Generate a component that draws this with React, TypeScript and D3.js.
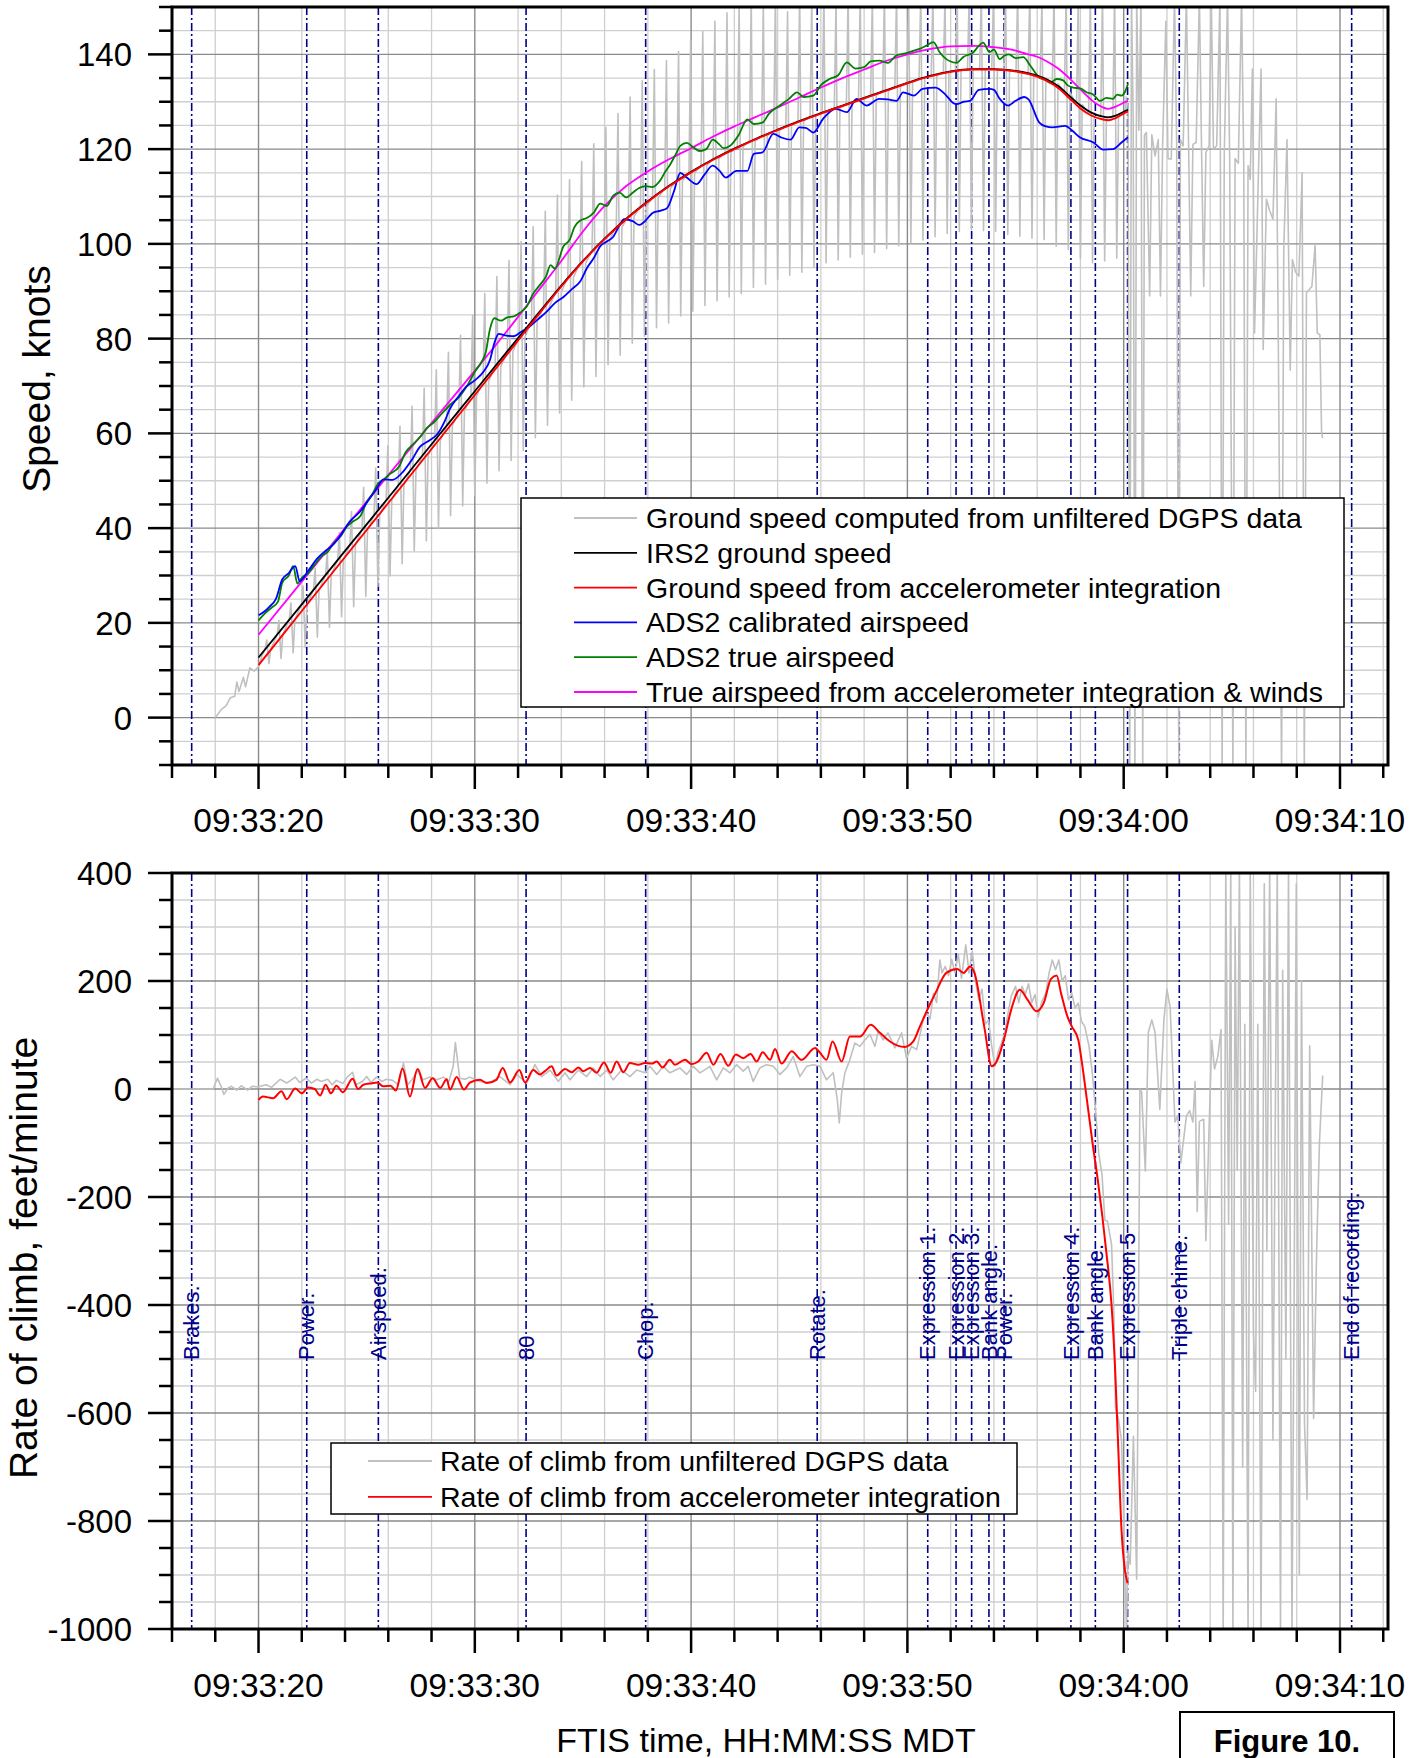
import React from 'react';
import * as d3 from 'd3';

// ---------- event markers ----------
const eventTimes = [16.91, 22.23, 25.54, 32.37, 37.9, 45.83, 50.94, 52.25, 52.97, 53.77, 54.47, 57.56, 58.69, 60.18, 62.57, 70.54];
const eventLabels = ['Brakes.', 'Power.', 'Airspeed.', '80', 'Chop.', 'Rotate.', 'Expression 1.', 'Expression 2.', 'Expression 3.', 'Bank angle.', 'Power.', 'Expression 4.', 'Bank angle.', 'Expression 5', 'Triple chime.', 'End of recording.'];

// ---------- tick labels ----------
const timeTicks = [20, 30, 40, 50, 60, 70];
const timeLabels = ['09:33:20', '09:33:30', '09:33:40', '09:33:50', '09:34:00', '09:34:10'];
const speedTicks = [0, 20, 40, 60, 80, 100, 120, 140];
const rocTicks = [400, 200, 0, -200, -400, -600, -800, -1000];

// ---------- top chart: speeds (t = seconds after 09:33:00, knots) ----------
const irs2Speed: [number, number][] = [[20,12.7],[22,23.9],[24,35.2],[26,46.4],[28,57.7],[30,68.9],[32,80.1],[33,85.7],[34,91.2],[35,96.4],[36,101.1],[37,105.3],[38,109],[39,112.3],[40,115.2],[41,117.8],[42,120.1],[43,122.2],[44,124.1],[45,125.9],[46,127.6],[47,129.2],[48,130.8],[49,132.4],[50,134],[51,135.4],[52,136.4],[53,136.9],[54,136.9],[55,136.5],[56,135.5],[56.5,134.6],[57,133.2],[57.5,131.2],[58,129.2],[58.5,127.7],[59,126.9],[59.3,126.7],[59.6,127],[60,127.9],[60.2,128.3]];
const accelGroundSpeed: [number, number][] = [[20,11.1],[22,22.5],[24,33.9],[26,45.3],[28,56.7],[30,68.1],[32,79.6],[33,85.4],[34,91],[35,96.3],[36,101],[37,105.2],[38,108.9],[39,112.2],[40,115.1],[41,117.7],[42,120],[43,122.1],[44,124],[45,125.8],[46,127.5],[47,129.1],[48,130.7],[49,132.3],[50,133.9],[51,135.3],[52,136.3],[53,136.8],[54,136.8],[55,136.4],[56,135.3],[56.5,134.3],[57,132.8],[57.5,130.7],[58,128.6],[58.5,127.1],[59,126.3],[59.3,126.1],[59.6,126.5],[60,127.5],[60.2,127.9]];
const accelTrueAirspeed: [number, number][] = [[20,17.5],[22,28.7],[24,40],[26,51.2],[28,62.2],[30,73.2],[31,78.8],[32,84.6],[33,90.5],[34,96.4],[35,102.6],[36,108],[37,112.2],[38,115.3],[39,117.9],[40,120.2],[41,122.6],[42,124.8],[43,126.8],[44,128.8],[45,130.9],[46,133],[47,135],[48,136.8],[49,138.6],[50,140],[51,141.1],[52,141.7],[53,141.8],[54,141.5],[55,140.8],[55.5,140.1],[56,139.5],[56.5,138.4],[57,136.9],[57.5,134.9],[58,132.6],[58.5,130.4],[59,128.9],[59.3,128.5],[59.6,128.9],[60,129.8],[60.2,130.2]];
const ads2TrueAirspeed: [number, number][] = [[20,20.5],[20.3,22],[20.6,23.2],[20.9,24.5],[21.1,28.5],[21.4,30],[21.6,32],[21.8,28.3],[22,29.5],[22.3,30.5],[22.6,32.3],[22.9,34],[23.2,35],[23.5,37],[23.8,38.3],[24.1,40.4],[24.4,41.5],[24.7,42.5],[25,45.5],[25.3,47.5],[25.5,49.2],[25.8,50.3],[26.1,51.5],[26.5,53],[26.8,56],[27.1,57.5],[27.5,59.4],[27.8,61.2],[28.1,62.3],[28.5,64.3],[28.9,66.2],[29.3,67.8],[29.7,70.5],[30,73],[30.3,75],[30.5,77],[30.7,82],[30.9,84.3],[31.2,83.8],[31.5,84.5],[31.8,84.7],[32.1,85.5],[32.4,86.8],[32.7,89.5],[33,91.3],[33.3,93.2],[33.5,95.5],[33.7,94.8],[34.1,99.5],[34.4,101],[34.6,103.5],[34.9,105],[35.2,105.5],[35.5,106.6],[35.8,108.5],[36.1,108],[36.4,110.2],[36.7,110.8],[37,109.8],[37.3,110.8],[37.6,111.8],[37.9,112.2],[38.2,112],[38.6,113.6],[38.8,115.2],[39,116.5],[39.3,119],[39.5,120.7],[39.8,121.3],[40.1,120.4],[40.4,119.6],[40.7,120],[41,122],[41.3,121],[41.5,120.2],[41.8,120.7],[42.2,123],[42.6,126.3],[42.9,125.3],[43.3,125.6],[43.6,127.5],[44.1,129.2],[44.5,130.5],[44.9,132],[45.2,131],[45.65,131.3],[46,133.5],[46.4,134.8],[46.8,135.6],[47.2,138.3],[47.6,137],[48,137.3],[48.3,138.5],[48.7,138.7],[49.1,138.2],[49.5,139.8],[49.9,140.2],[50.3,140.8],[50.6,141.2],[50.9,141.9],[51.2,142.6],[51.5,140.4],[51.8,139],[52,138.5],[52.27,138.2],[52.6,139.5],[53.04,140.4],[53.3,141.8],[53.5,142.5],[53.8,140.5],[54,141],[54.27,139],[54.5,139.8],[54.7,140],[55,139.2],[55.35,139.4],[55.7,137.5],[56.1,135.1],[56.4,134.6],[56.6,134],[56.9,134.8],[57.2,134.5],[57.4,133.5],[57.66,133],[58,132.8],[58.28,132],[58.6,131.5],[58.9,130.2],[59.2,130.8],[59.5,130.6],[59.7,131.5],[59.9,131.3],[60.05,132],[60.2,133.8]];
const ads2CalAirspeed: [number, number][] = [[20,21.6],[20.3,22.5],[20.5,23.4],[20.8,25],[21.1,29.2],[21.4,30.5],[21.7,32],[21.9,28.8],[22.3,31],[22.7,33.5],[23.15,35.4],[23.45,36.5],[23.8,38.5],[24.2,41.3],[24.7,43.5],[25.1,46],[25.46,48.3],[25.77,50.3],[26.2,50.2],[26.7,52],[27.1,54.5],[27.47,57.2],[27.9,58.5],[28.24,59.7],[28.6,62.5],[28.85,65.2],[29.2,67.5],[29.6,69.8],[30,71.2],[30.4,73],[30.7,75.5],[30.9,79],[31.1,81],[31.4,80.7],[31.8,80.5],[32.1,81.3],[32.55,82.6],[32.9,84],[33.3,85.6],[33.7,87.5],[34.1,88.8],[34.5,90.5],[34.86,92],[35.2,95],[35.5,97],[35.8,99.5],[36.1,100.5],[36.4,101.5],[36.7,104],[36.9,105.2],[37.3,104.8],[37.6,104],[37.8,104.5],[38.25,106.6],[38.6,107],[38.9,107.6],[39.2,111],[39.5,115],[39.8,114],[40.25,112.6],[40.6,114.5],[41,116.5],[41.3,115.5],[41.6,114],[42.1,115.4],[42.6,115.4],[42.9,119],[43.3,119.3],[43.8,123.2],[44.2,122.4],[44.6,122],[45,124.6],[45.3,124.5],[45.65,123.5],[46.1,126.4],[46.7,128.5],[47.2,127.8],[47.65,130.6],[48.1,129.2],[48.7,130.6],[49.1,130.5],[49.5,130.2],[49.8,132],[50.3,131.3],[50.7,132.7],[51.3,133],[51.8,131.3],[52.1,129.8],[52.27,129.5],[52.6,130],[52.9,130.2],[53.3,132.5],[53.8,132.7],[54,132.5],[54.27,130.6],[54.66,129.2],[55,130.2],[55.4,131],[55.6,130.5],[56.1,125.6],[56.4,124.8],[56.7,124.6],[57.3,124.9],[57.6,124],[57.97,122.5],[58.6,121.4],[59.05,119.9],[59.5,120],[59.9,121.4],[60.2,122.5]];

// DGPS ground speed: start of roll, periodic glitch doublets (base / high / low), and the end
const gpsSpeedStart: [number, number][] = [[18,0],[18.3,1.8],[18.5,2.5],[18.7,4.2],[18.9,4.5],[19,7.5],[19.1,5.5],[19.3,8.5],[19.4,6.5],[19.6,10.5],[19.8,9.8],[20,10.8],[20.15,13]];
const gpsSpikeTime = [20.3,20.86,21.42,21.98,22.54,23.1,23.66,24.22,24.78,25.34,25.9,26.46,27.02,27.58,28.14,28.7,29.26,29.82,30.38,30.94,31.5,32.06,32.62,33.18,33.74,34.3,34.86,35.42,35.98,36.54,37.1,37.66,38.22,38.78,39.34,39.9,40.46,41.02,41.58,42.14,42.7,43.26,43.82,44.38,44.94,45.5,46.06,46.62,47.18,47.74,48.3,48.86,49.42,49.98,50.54,51.1,51.66,52.22,52.78,53.34,53.9,54.46,55.02,55.58,56.14,56.7,57.26,57.82,58.38,58.94,59.5];
const gpsSpikeBase = [14.4,17.5,20.7,23.8,27,30.1,33.3,36.4,39.6,42.7,45.9,49,52.2,55.3,58.4,61.6,64.7,67.9,71,74.1,77.3,80.4,83.6,86.7,89.8,93,95.9,98.6,101.1,103.5,105.8,107.9,109.8,111.7,113.4,115,116.5,118,119.3,120.5,121.7,122.8,123.9,124.9,125.9,126.9,127.8,128.7,129.6,130.5,131.4,132.3,133.2,134.1,135,135.6,136.1,136.6,136.8,136.9,136.8,136.6,136.3,135.8,135,133.8,131.9,129.4,127.6,126.8,126.8];
const gpsSpikeHigh = [16.4,20.5,24.2,27.8,31.5,35.1,39,43.5,48.6,52.7,57.4,61.5,65.7,69.5,73.4,77.1,80.7,84.9,89.5,93.1,96.5,100.5,103.6,106.9,110.3,113.5,117.4,121.1,124.6,127.5,131,134.4,136.8,138.7,140.6,143,144.8,147,148.8,150.5,152,151,153,149,153,152,153,151,153,153,152,153,153,151,153,153,152,153,153,153,152,153,153,153,151,153,153,152,153,153,153];
const gpsSpikeLow = [11.4,12.5,13.7,14.8,17,19.1,21.3,23.4,25.6,27.7,29.9,32.5,35.2,37.3,39.9,42.6,44.7,46.9,49.5,52.1,54.3,56.4,59.1,61.7,64.3,67,69.8,72,74.5,76.5,79,80.5,82.3,83.3,84.8,85.8,87,88,88.8,89.5,90.8,91.5,92.5,93.4,94,95,96,96.6,97.2,97.8,98.2,99,99.6,100.2,100.8,101.5,102.2,102.6,103,102.8,102.6,102,101.6,101.2,100.9,99.5,98.8,97,96,96.4,97];
const gpsSpeedEnd: [number, number][] = [[60.06,127.9],[60.12,131],[60.2,129],[60.28,-12],[60.36,152],[60.44,126],[60.52,-12],[60.6,152],[60.7,124],[60.8,152],[60.88,-12],[60.96,123],[61.05,123.5],[61.2,89],[61.3,123],[61.45,118.6],[61.6,122],[61.7,89],[61.8,121],[61.95,147],[62.05,118],[62.2,117.9],[62.35,152],[62.45,121],[62.55,-12],[62.62,122],[62.75,120.7],[62.9,152],[63,121],[63.1,89],[63.2,121],[63.35,121.4],[63.5,152],[63.6,120],[63.7,91],[63.8,119.3],[63.95,120.7],[64.05,152],[64.15,120],[64.3,120.7],[64.45,152],[64.55,-12],[64.65,119],[64.8,152],[64.9,118],[65.05,-12],[65.15,118],[65.3,117],[65.45,152],[65.55,117],[65.65,-12],[65.75,116.5],[65.85,113.6],[65.95,136.9],[66.05,81.2],[66.2,109.4],[66.35,136.9],[66.45,77.7],[66.6,109.4],[66.75,107],[66.9,105.2],[67.05,130.6],[67.15,78.4],[67.3,-12],[67.4,98.8],[67.55,122],[67.7,73.4],[67.8,96.7],[67.95,94],[68.1,93.2],[68.25,115],[68.35,-12],[68.45,89.7],[68.7,91],[68.85,99.7],[68.95,81.2],[69.07,80.8],[69.15,60],[69.2,59]];

// ---------- bottom chart: rate of climb (ft/min) ----------
const accelRoc: [number, number][] = [[20,-20],[20.2,-14],[20.68,-17],[21.06,-4],[21.3,-19],[21.7,1],[22,-8],[22.3,3],[22.6,0],[22.85,-12],[23.1,8],[23.35,-8],[23.6,6],[23.9,-6],[24.35,19],[24.6,0],[24.85,8],[25.15,10],[25.5,12],[25.77,5],[26.1,6],[26.35,-3],[26.66,38],[27,-14],[27.35,37],[27.7,2],[28.05,20],[28.4,2],[28.7,18],[28.85,-1],[29.16,22],[29.5,-1],[29.77,12],[30.24,17],[30.55,11],[31,17],[31.29,39],[31.63,12],[32.06,35],[32.32,12],[32.7,35],[33,27],[33.24,33],[33.55,42],[33.78,25],[34.17,37],[34.48,31],[34.79,40],[35.02,33],[35.33,39],[35.63,30],[35.97,49],[36.28,30],[36.56,51],[36.87,31],[37.17,48],[37.56,45],[37.87,48],[38.18,47],[38.41,51],[38.68,40],[39.02,54],[39.25,45],[39.72,54],[40.02,46],[40.33,51],[40.72,67],[41.03,45],[41.36,65],[41.72,43],[42.07,64],[42.41,57],[42.75,65],[43.03,51],[43.31,68],[43.65,54],[43.88,74],[44.18,47],[44.65,70],[45.11,54],[45.73,76],[45.96,67],[46.26,54],[46.54,88],[46.96,51],[47.34,97],[47.81,97],[48.3,119],[48.73,104],[49.19,88],[49.88,78],[50.27,88],[50.58,116],[50.96,150],[51.3,178],[51.8,215],[52.3,222],[52.6,215],[52.9,227],[53.1,215],[53.55,116],[53.9,42],[54.1,49],[54.46,91],[54.8,147],[55.2,184],[55.56,165],[55.97,144],[56.3,159],[56.64,204],[56.9,210],[57.1,178],[57.4,134],[57.6,116],[57.9,91],[58.05,54],[58.3,-20],[58.56,-100],[58.8,-168],[59.2,-303],[59.44,-401],[59.6,-515],[59.75,-666],[59.9,-817],[60.06,-892],[60.18,-915]];
const gpsRoc: [number, number][] = [[16,0],[17.9,0],[18.1,20],[18.3,2],[18.4,-10],[18.6,2],[18.75,5],[19,-2],[19.2,6],[19.5,-2],[19.7,5],[20,4],[20.35,8],[20.6,3],[21,18],[21.3,11],[21.7,22],[21.9,12],[22.2,20],[22.45,11],[22.7,18],[22.9,14],[23.2,18],[23.4,8],[23.6,16],[23.9,10],[24.1,22],[24.35,31],[24.5,8],[24.8,14],[25,23],[25.2,12],[25.45,22],[25.7,14],[25.9,18],[26.2,16],[26.45,8],[26.7,48],[26.9,8],[27.15,20],[27.4,37],[27.6,17],[27.9,22],[28.25,17],[28.55,22],[28.8,14],[29,42],[29.1,86],[29.3,20],[29.55,18],[29.77,22],[30.24,14],[30.7,12],[31.16,23],[31.63,8],[31.93,27],[32.4,11],[32.78,45],[33.09,23],[33.48,35],[33.86,14],[34.17,30],[34.4,17],[34.79,35],[35.17,23],[35.48,39],[35.79,23],[36.1,35],[36.4,17],[36.79,35],[37.17,23],[37.48,35],[37.87,30],[38.1,42],[38.41,27],[38.71,42],[39.02,30],[39.48,39],[39.79,27],[40.1,42],[40.41,30],[40.87,42],[41.18,17],[41.49,39],[41.8,30],[42.1,45],[42.41,33],[42.64,42],[42.87,14],[43.18,39],[43.49,45],[43.8,42],[44.11,27],[44.42,39],[44.72,60],[45.03,23],[45.34,42],[45.65,45],[45.96,42],[46.26,17],[46.57,30],[46.76,-20],[46.85,-63],[46.96,-7],[47.11,30],[47.34,54],[47.57,85],[47.81,79],[48.04,91],[48.27,101],[48.5,79],[48.65,107],[48.88,91],[49.1,104],[49.42,76],[49.73,104],[49.96,57],[50.19,79],[50.43,73],[50.73,128],[50.9,140],[51.05,130],[51.2,177],[51.35,160],[51.5,239],[51.6,215],[51.75,227],[51.9,210],[52.05,240],[52.2,215],[52.35,250],[52.5,205],[52.7,267],[52.85,215],[53,255],[53.15,200],[53.3,165],[53.45,185],[53.6,120],[53.75,128],[53.9,79],[54.05,42],[54.2,70],[54.35,85],[54.5,104],[54.65,140],[54.8,172],[55,190],[55.15,160],[55.3,190],[55.45,175],[55.6,195],[55.75,160],[55.9,175],[56.05,134],[56.2,160],[56.4,178],[56.55,215],[56.7,239],[56.85,221],[57,239],[57.15,200],[57.3,210],[57.45,165],[57.6,178],[57.75,150],[57.9,159],[58.05,125],[58.2,116],[58.4,79],[58.55,30],[58.7,-40],[58.85,-120],[59,-160],[59.13,-243],[59.25,-245],[59.44,-288],[59.55,-420],[59.62,-590],[59.75,-610],[59.9,-651],[60,-800],[60.13,-1010],[60.2,-855],[60.3,-880],[60.45,-643],[60.52,-760],[60.6,-908],[60.68,-455],[60.75,-1],[60.83,-5],[61,-152],[61.14,105],[61.3,128],[61.45,105],[61.67,-38],[61.86,128],[62,185],[62.15,150],[62.37,-61],[62.5,-50],[62.64,-137],[62.9,-50],[63.05,-40],[63.2,-61],[63.3,14],[63.4,-227],[63.5,-60],[63.7,-56],[63.8,-281],[63.95,-70],[64.07,90],[64.2,37],[64.35,60],[64.5,110],[64.6,-1010],[64.72,410],[64.85,-250],[64.95,410],[65.05,-1010],[65.15,300],[65.25,-150],[65.35,410],[65.5,-700],[65.6,120],[65.75,-1010],[65.85,410],[66,-450],[66.1,-560],[66.2,120],[66.35,-1010],[66.5,380],[66.62,-300],[66.75,410],[66.9,-650],[67,-100],[67.1,410],[67.25,-1010],[67.35,220],[67.5,-500],[67.62,410],[67.78,-1010],[67.88,-380],[67.98,380],[68.12,-900],[68.22,200],[68.36,-620],[68.48,-760],[68.6,80],[68.78,-610],[68.92,-300],[69.05,-100],[69.2,25]];

const FONT = '"Liberation Sans", Arial, Helvetica, sans-serif';

const PL = 172, PR = 1388;
const T_TOP = 7, T_BOT = 765;
const B_TOP = 873, B_BOT = 1629;

export default function App() {
  const x = d3.scaleLinear().domain([16, 72.22]).range([PL, PR]);
  const yT = d3.scaleLinear().domain([-10, 150]).range([T_BOT, T_TOP]);
  const yB = d3.scaleLinear().domain([-1000, 400]).range([B_BOT, B_TOP]);

  const lineT = d3.line<[number, number]>().x(d => x(d[0])).y(d => yT(d[1]));
  const lineB = d3.line<[number, number]>().x(d => x(d[0])).y(d => yB(d[1]));
  const smoothT = d3.line<[number, number]>().x(d => x(d[0])).y(d => yT(d[1])).curve(d3.curveMonotoneX);
  const smoothB = d3.line<[number, number]>().x(d => x(d[0])).y(d => yB(d[1])).curve(d3.curveMonotoneX);

  const gpsSpeed: [number, number][] = [...gpsSpeedStart];
  gpsSpikeTime.forEach((t, i) => {
    gpsSpeed.push([t, gpsSpikeBase[i]]);
    gpsSpeed.push([t + 0.08, gpsSpikeHigh[i]]);
    gpsSpeed.push([t + 0.18, gpsSpikeLow[i]]);
    gpsSpeed.push([t + 0.26, gpsSpikeBase[i]]);
  });
  gpsSpeed.push(...gpsSpeedEnd);

  const xMinor = d3.range(16, 72.3, 2);
  const xMajor = timeTicks;
  const topMinor = d3.range(-10, 150.1, 5);
  const botMinor = d3.range(-1000, 400.1, 50);

  const grid = (y0: number, y1: number, yScale: any, minor: number[], major: number[]) => (
    <g>
      {xMinor.filter(v => !xMajor.includes(v)).map(v => (
        <line key={'xm' + v} x1={x(v)} x2={x(v)} y1={y0} y2={y1} stroke="#cfcfcf" strokeWidth={1.3} />
      ))}
      {minor.filter(v => !major.includes(v)).map(v => (
        <line key={'ym' + v} x1={PL} x2={PR} y1={yScale(v)} y2={yScale(v)} stroke="#cfcfcf" strokeWidth={1.3} />
      ))}
      {xMajor.map(v => (
        <line key={'xM' + v} x1={x(v)} x2={x(v)} y1={y0} y2={y1} stroke="#8a8a8a" strokeWidth={1.4} />
      ))}
      {major.map(v => (
        <line key={'yM' + v} x1={PL} x2={PR} y1={yScale(v)} y2={yScale(v)} stroke="#8a8a8a" strokeWidth={1.4} />
      ))}
    </g>
  );

  const events = (y0: number, y1: number) => (
    <g>
      {eventTimes.map((t, i) => (
        <line key={'ev' + i} x1={x(t)} x2={x(t)} y1={y0} y2={y1} stroke="#000090" strokeWidth={1.6} strokeDasharray="8 3 2 3" />
      ))}
    </g>
  );

  const axes = (y0: number, y1: number, yScale: any, minor: number[], major: number[], labels: number[], xLabelY: number) => (
    <g>
      <rect x={PL} y={y0} width={PR - PL} height={y1 - y0} fill="none" stroke="#000" strokeWidth={3} />
      {minor.map(v => {
        const isMajor = major.includes(v);
        return <line key={'yt' + v} x1={PL - (isMajor ? 24 : 13)} x2={PL} y1={yScale(v)} y2={yScale(v)} stroke="#000" strokeWidth={2.5} />;
      })}
      {xMinor.map(v => {
        const isMajor = xMajor.includes(v);
        return <line key={'xt' + v} x1={x(v)} x2={x(v)} y1={y1} y2={y1 + (isMajor ? 24 : 13)} stroke="#000" strokeWidth={2.5} />;
      })}
      {labels.map(v => (
        <text key={'yl' + v} x={132} y={yScale(v) + 12} textAnchor="end" fontSize={33} fontFamily={FONT} fill="#000">{String(v)}</text>
      ))}
      {timeTicks.map((v, i) => (
        <text key={'xl' + v} x={x(v)} y={xLabelY} textAnchor="middle" fontSize={33.5} fontFamily={FONT} fill="#000">{timeLabels[i]}</text>
      ))}
    </g>
  );

  const topLegend = [
    { label: 'Ground speed computed from unfiltered DGPS data', color: '#c0c0c0' },
    { label: 'IRS2 ground speed', color: '#000000' },
    { label: 'Ground speed from accelerometer integration', color: '#ff0000' },
    { label: 'ADS2 calibrated airspeed', color: '#0000ff' },
    { label: 'ADS2 true airspeed', color: '#008000' },
    { label: 'True airspeed from accelerometer integration & winds', color: '#ff00ff' },
  ];
  const botLegend = [
    { label: 'Rate of climb from unfiltered DGPS data', color: '#c0c0c0' },
    { label: 'Rate of climb from accelerometer integration', color: '#ff0000' },
  ];

  return (
    <svg width={1425} height={1758} viewBox="0 0 1425 1758" style={{ position: 'absolute', left: 0, top: 0, background: '#fff' }}>
      <defs>
        <clipPath id="clipTop"><rect x={PL} y={T_TOP} width={PR - PL} height={T_BOT - T_TOP} /></clipPath>
        <clipPath id="clipBot"><rect x={PL} y={B_TOP} width={PR - PL} height={B_BOT - B_TOP} /></clipPath>
      </defs>
      <rect x={0} y={0} width={1425} height={1758} fill="#fff" />

      {/* ---------- TOP CHART ---------- */}
      {grid(T_TOP, T_BOT, yT, topMinor, speedTicks)}
      {events(T_TOP, T_BOT)}
      <g clipPath="url(#clipTop)" fill="none" strokeLinejoin="round">
        <path d={lineT(gpsSpeed) || ''} stroke="#c0c0c0" strokeWidth={1.6} />
        <path d={smoothT(accelTrueAirspeed) || ''} stroke="#ff00ff" strokeWidth={1.8} />
        <path d={smoothT(ads2TrueAirspeed) || ''} stroke="#008000" strokeWidth={1.8} />
        <path d={smoothT(ads2CalAirspeed) || ''} stroke="#0000ff" strokeWidth={1.8} />
        <path d={smoothT(irs2Speed) || ''} stroke="#000000" strokeWidth={1.8} />
        <path d={smoothT(accelGroundSpeed) || ''} stroke="#ff0000" strokeWidth={1.9} />
      </g>
      <g>
        <rect x={521} y={498} width={823} height={209} fill="#fff" stroke="#000" strokeWidth={1.5} />
        {topLegend.map((e, i) => {
          const yy = 518 + i * 34.8;
          return (
            <g key={'tl' + i}>
              <line x1={574} x2={637} y1={yy} y2={yy} stroke={e.color} strokeWidth={1.8} />
              <text x={646} y={yy + 10} fontSize={28.5} fontFamily={FONT} fill="#000">{e.label}</text>
            </g>
          );
        })}
      </g>
      {axes(T_TOP, T_BOT, yT, topMinor, speedTicks, speedTicks, 832)}

      {/* ---------- BOTTOM CHART ---------- */}
      {grid(B_TOP, B_BOT, yB, botMinor, rocTicks)}
      {events(B_TOP, B_BOT)}
      <g clipPath="url(#clipBot)" fill="none" strokeLinejoin="round">
        <path d={lineB(gpsRoc) || ''} stroke="#c0c0c0" strokeWidth={1.6} />
        <path d={smoothB(accelRoc) || ''} stroke="#ff0000" strokeWidth={2} />
      </g>
      {eventTimes.map((t, i) => (
        <text key={'evl' + i} transform={`translate(${x(t)},1360) rotate(-90)`} dy="0.35em" fontSize={22} fontFamily={FONT} fill="#00008b">{eventLabels[i]}</text>
      ))}
      <g>
        <rect x={331} y={1443} width={686} height={71} fill="#fff" stroke="#000" strokeWidth={1.5} />
        {botLegend.map((e, i) => {
          const yy = 1461 + i * 35.8;
          return (
            <g key={'bl' + i}>
              <line x1={368} x2={432} y1={yy} y2={yy} stroke={e.color} strokeWidth={1.8} />
              <text x={440} y={yy + 10} fontSize={28.5} fontFamily={FONT} fill="#000">{e.label}</text>
            </g>
          );
        })}
      </g>
      {axes(B_TOP, B_BOT, yB, botMinor, rocTicks, rocTicks, 1697)}

      {/* ---------- titles ---------- */}
      <text transform="translate(50,379) rotate(-90)" textAnchor="middle" fontSize={39} fontFamily={FONT} fill="#000">Speed, knots</text>
      <text transform="translate(37,1258) rotate(-90)" textAnchor="middle" fontSize={39} fontFamily={FONT} fill="#000">Rate of climb, feet/minute</text>
      <text x={766} y={1752} textAnchor="middle" fontSize={34} fontFamily={FONT} fill="#000">FTIS time, HH:MM:SS MDT</text>
      <rect x={1180} y={1712} width={214} height={60} fill="#fff" stroke="#000" strokeWidth={2} />
      <text x={1287} y={1752} textAnchor="middle" fontSize={31} fontWeight="bold" fontFamily={FONT} fill="#000">Figure 10.</text>
    </svg>
  );
}
